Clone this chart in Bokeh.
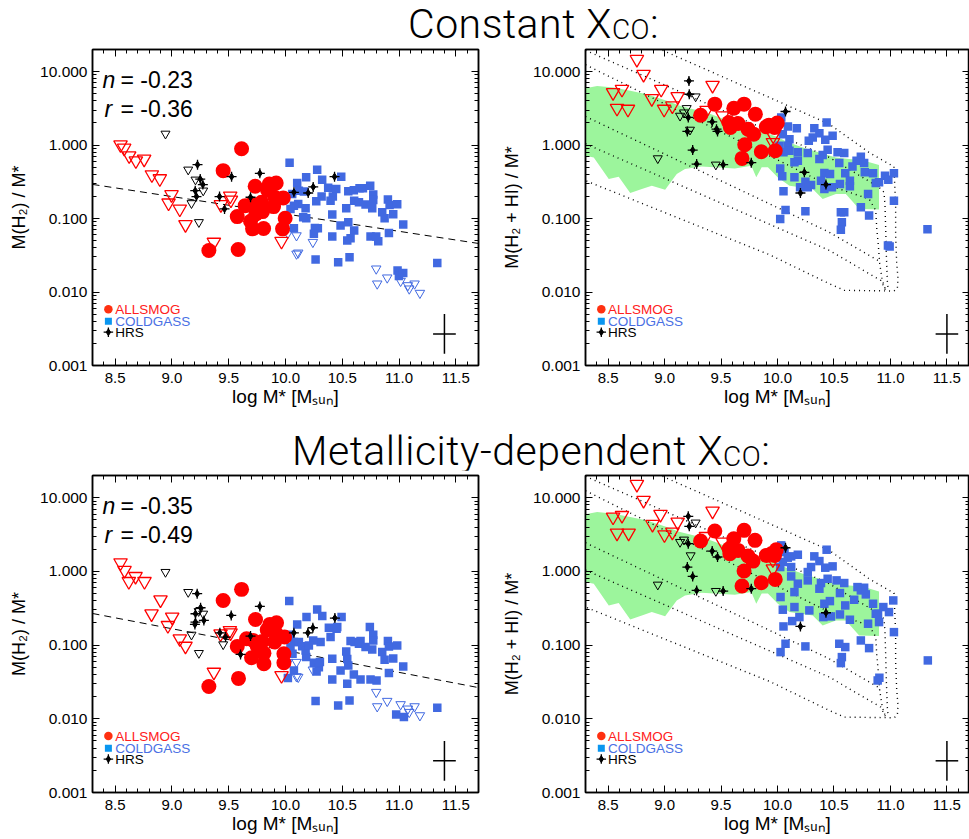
from bokeh.plotting import figure
from bokeh.models import (FixedTicker, LinearAxis, LogAxis, Div, Spacer,
                          Range1d, PrintfTickFormatter)
from bokeh.layouts import column, row
from bokeh.embed import file_html
from bokeh.resources import INLINE
from bokeh.core.properties import value

# ---------------------------------------------------------------- data
# all y values are log10 of the plotted ratio; x = log M* [Msun]

# ---- top-left: M(H2)/M*, constant XCO
TL_ALLSMOG_DET = [(9.613,-0.050),(9.451,-0.348),(9.733,-0.561),(9.857,-0.529),(9.918,-0.516),(9.842,-0.611),
                  (9.906,-0.710),(9.980,-0.719),(9.645,-0.824),(9.704,-0.801),(9.789,-0.778),(9.895,-0.837),
                  (9.575,-0.973),(9.739,-0.937),(9.798,-0.905),(9.692,-1.036),(9.997,-0.995),(9.710,-1.140),
                  (9.807,-1.136),(9.974,-1.140),(9.325,-1.434),(9.583,-1.421)]
TL_ALLSMOG_UL = [(8.547,0.005),(8.579,-0.041),(8.623,-0.145),(8.682,-0.213),(8.755,-0.190),(8.823,-0.403),
                 (8.893,-0.457),(8.996,-0.674),(8.970,-0.787),(9.069,-0.869),(9.119,-1.081),(9.369,-1.321),
                 (9.431,-0.810),(9.513,-0.692),(9.519,-0.747),(9.965,-1.308)]
TL_HRS_DET = [(9.225,-0.267),(9.249,-0.462),(9.272,-0.538),(9.205,-0.620),(9.216,-0.701),(9.419,-0.701),
              (9.463,-0.869),(9.525,-0.430),(9.692,-0.710),(9.774,-0.385),(10.074,-0.643),(10.200,-0.652),
              (10.244,-0.570),(10.432,-0.430)]
TL_HRS_UL = [(8.943,0.154),(9.143,-0.335),(9.207,-0.471),(9.275,-0.620),(9.172,-0.792),(9.237,-1.050)]
TL_COLDGASS_DET = [(10.036,-0.240),(10.279,-0.335),(10.323,-0.471),(10.182,-0.439),(10.103,-0.516),(10.118,-0.620),
                   (10.162,-0.633),(10.059,-0.665),(10.376,-0.579),(10.447,-0.597),(10.491,-0.430),(10.553,-0.629),
                   (10.602,-0.615),(10.652,-0.588),(10.682,-0.588),(10.746,-0.552),(10.773,-0.674),(10.773,-0.747),
                   (10.902,-0.742),(10.917,-0.814),(10.984,-0.805),(10.318,-0.701),(10.417,-0.701),(10.397,-0.756),
                   (10.271,-0.765),(10.177,-0.860),(10.112,-0.801),(10.074,-0.824),(10.044,-0.869),(10.412,-0.946),
                   (10.535,-0.860),(10.605,-0.756),(10.647,-0.778),(10.705,-0.810),(10.764,-0.860),(10.852,-0.914),
                   (10.873,-0.995),(10.949,-0.941),(10.183,-0.995),(10.156,-0.982),(10.259,-1.127),(10.285,-1.131),
                   (10.250,-1.208),(10.074,-1.131),(10.485,-1.095),(10.553,-1.050),(10.605,-1.163),(10.412,-1.244),
                   (10.573,-1.267),(10.544,-1.299),(10.749,-1.244),(10.799,-1.244),(10.817,-1.308),(10.911,-1.195),
                   (11.037,-1.081),(10.265,-1.557),(10.464,-1.593),(10.564,-1.525),(10.987,-1.706),(10.999,-1.783),
                   (11.037,-1.742),(11.337,-1.606)]
TL_COLDGASS_UL = [(10.021,-1.199),(10.097,-1.231),(10.241,-1.321),(10.097,-1.480),(10.112,-1.466),(10.799,-1.683),
                  (10.808,-1.887),(10.896,-1.805),(11.014,-1.851),(11.078,-1.910),(11.090,-1.955),(11.137,-1.887),
                  (11.184,-2.014)]
TL_FIT_X = [8.3, 11.7]
TL_FIT_LOGY = [-0.535, -1.339]
TL_N, TL_R = "-0.23", "-0.36"

# ---- bottom-left: M(H2)/M*, metallicity-dependent XCO
BL_ALLSMOG_DET = [(9.613,-0.244),(9.451,-0.394),(9.736,-0.652),(9.862,-0.719),(9.921,-0.697),(9.839,-0.792),
                  (9.915,-0.837),(9.992,-0.891),(9.657,-0.914),(9.716,-0.937),(9.795,-0.950),(9.904,-0.959),
                  (9.575,-1.018),(9.751,-1.014),(9.810,-1.109),(9.986,-1.118),(9.701,-1.172),(9.810,-1.253),
                  (9.986,-1.240),(9.325,-1.561),(9.586,-1.452)]
BL_ALLSMOG_UL = [(8.547,0.118),(8.582,0.014),(8.620,-0.136),(8.679,-0.068),(8.758,-0.136),(8.899,-0.385),
                 (8.820,-0.575),(9.002,-0.620),(8.964,-0.733),(9.069,-0.914),(9.119,-1.014),(9.369,-1.367),
                 (9.428,-0.846),(9.510,-0.801),(9.516,-0.833),(9.965,-1.412)]
BL_HRS_DET = [(9.222,-0.303),(9.207,-0.575),(9.252,-0.493),(9.281,-0.665),(9.207,-0.688),(9.202,-0.719),
              (9.422,-0.833),(9.472,-0.891),(9.522,-0.597),(9.604,-1.127),(9.692,-0.878),(9.774,-0.475),
              (10.074,-0.833),(10.197,-0.833),(10.241,-0.765),(10.435,-0.633)]
BL_HRS_UL = [(8.943,-0.009),(9.143,-0.281),(9.235,-0.540),(9.275,-0.575),(9.172,-0.860),(9.237,-1.109),(9.451,-0.991)]
BL_COLDGASS_DET = [(10.033,-0.403),(10.185,-0.620),(10.279,-0.516),(10.324,-0.606),(10.382,-0.765),(10.450,-0.778),
                   (10.494,-0.620),(10.103,-0.719),(10.044,-0.860),(10.074,-0.959),(10.118,-0.959),(10.044,-1.027),
                   (10.147,-1.014),(10.062,-1.118),(10.182,-1.163),(10.250,-1.240),(10.294,-1.299),(10.274,-1.357),
                   (10.412,-1.466),(10.464,-1.819),(10.564,-1.751),(10.265,-1.760),(10.021,-1.448),(10.074,-1.344),
                   (10.544,-1.190),(10.573,-0.946),(10.608,-0.959),(10.661,-0.946),(10.743,-0.756),(10.773,-0.860),
                   (10.773,-0.937),(10.902,-0.946),(10.911,-1.018),(10.984,-1.005),(10.647,-0.982),(10.705,-1.027),
                   (10.764,-1.059),(10.535,-1.086),(10.309,-0.959),(10.397,-0.891),(10.852,-1.095),(10.873,-1.199),
                   (10.949,-1.181),(11.037,-1.290),(10.911,-1.380),(10.661,-1.466),(10.749,-1.466),(10.802,-1.480),
                   (10.602,-1.398),(10.544,-1.525),(10.412,-1.186),(10.456,-0.756),(10.244,-0.937),(10.303,-1.231),
                   (10.975,-1.941),(11.043,-1.977),(11.337,-1.851),(10.485,-1.344),(10.553,-1.276),(10.177,-1.072),
                   (10.206,-1.005)]
BL_COLDGASS_UL = [(10.021,-1.231),(10.097,-1.231),(10.241,-1.335),(10.097,-1.425),(10.112,-1.434),(10.799,-1.638),
                  (10.808,-1.833),(10.896,-1.760),(11.014,-1.805),(11.078,-1.864),(11.090,-1.910),(11.137,-1.833),
                  (11.184,-1.955)]
BL_FIT_X = [8.3, 11.7]
BL_FIT_LOGY = [-0.571, -1.577]
BL_N, BL_R = "-0.35", "-0.49"

# ---- top-right: M(H2+HI)/M*, constant XCO
TR_ALLSMOG_DET = [(9.319,0.407),(9.445,0.557),(9.613,0.502),(9.704,0.557),(9.804,0.421),(9.569,0.308),
                  (9.651,0.294),(9.583,0.240),(9.739,0.217),(9.789,0.149),(9.901,0.249),(9.924,0.271),
                  (9.998,0.299),(9.974,0.240),(9.710,0.005),(9.857,-0.090),(9.980,-0.077),(9.686,-0.181)]
TR_ALLSMOG_UL = [(8.755,1.167),(8.814,0.964),(8.544,0.715),(8.623,0.760),(8.579,0.502),(8.676,0.489),
                 (8.887,0.633),(8.970,0.760),(8.996,0.489),(9.069,0.534),(9.116,0.661),(9.425,0.814),
                 (9.372,0.475),(9.513,0.398),(9.962,0.127),(9.959,0.036)]
TR_HRS_DET = [(9.216,0.873),(9.219,0.692),(9.210,0.376),(9.202,0.186),(9.249,-0.068),(9.284,-0.258),
              (9.422,0.317),(9.460,0.217),(9.469,0.186),(9.519,-0.267),(9.768,-0.240),(10.071,0.457),
              (10.238,-0.371),(10.429,-0.538),(10.203,-0.652)]
TR_HRS_UL = [(9.275,0.661),(9.196,0.502),(9.172,0.443),(9.137,0.398),(9.225,0.208),(8.940,-0.181),(9.454,-0.267)]
TR_COLDGASS_DET = [(10.033,0.375),(10.092,0.253),(10.171,0.230),(10.326,0.230),(10.371,0.162),(10.312,0.104),
                   (10.277,0.058),(10.435,0.307),(10.488,0.126),(10.423,0.072),(10.047,0.149),(10.106,0.081),
                   (10.018,-0.010),(10.092,-0.010),(10.106,-0.077),(10.053,-0.099),(10.180,-0.099),(10.268,-0.108),
                   (10.400,-0.136),(10.444,-0.064),(10.532,-0.099),(10.591,-0.108),(10.371,-0.190),(10.180,-0.213),
                   (10.150,-0.235),(10.547,-0.244),(10.738,-0.159),(10.700,-0.213),(10.767,-0.244),(10.664,-0.290),
                   (10.024,-0.317),(10.042,-0.425),(10.150,-0.439),(10.415,-0.380),(10.465,-0.394),(10.600,-0.385),
                   (10.773,-0.371),(10.846,-0.385),(10.952,-0.416),(10.981,-0.471),(11.031,-0.385),(10.899,-0.507),
                   (10.870,-0.516),(10.247,-0.498),(10.297,-0.543),(10.268,-0.575),(10.200,-0.575),(10.385,-0.485),
                   (10.415,-0.598),(10.482,-0.575),(10.553,-0.530),(10.641,-0.485),(10.641,-0.561),(10.802,-0.665),
                   (10.053,-0.629),(11.031,-0.756),(10.738,-0.846),(10.071,-0.882),(10.247,-0.901),(10.561,-0.914),
                   (10.591,-0.914),(10.024,-1.005),(10.570,-1.050),(10.561,-1.154),(10.811,-0.959),(10.993,-1.380),
                   (10.978,-1.367),(11.328,-1.145)]

# ---- bottom-right: M(H2+HI)/M*, metallicity-dependent XCO
BR_ALLSMOG_DET = [(9.319,0.412),(9.445,0.548),(9.613,0.443),(9.704,0.557),(9.801,0.421),(9.572,0.308),
                  (9.651,0.285),(9.578,0.240),(9.739,0.208),(9.783,0.140),(9.901,0.217),(9.945,0.240),
                  (9.989,0.294),(9.974,0.217),(9.704,0.005),(9.857,-0.154),(9.980,-0.109),(9.686,-0.199)]
BR_ALLSMOG_UL = [(8.755,1.181),(8.814,0.964),(8.544,0.738),(8.623,0.760),(8.579,0.520),(8.682,0.520),
                 (8.893,0.638),(8.964,0.774),(8.999,0.498),(9.069,0.534),(9.116,0.670),(9.425,0.819),
                 (9.366,0.475),(9.513,0.398),(9.959,0.158),(9.959,0.036)]
BR_HRS_DET = [(9.210,0.747),(9.219,0.611),(9.210,0.376),(9.202,0.059),(9.249,-0.068),(9.284,-0.258),
              (9.422,0.276),(9.469,0.195),(9.519,-0.267),(9.768,-0.235),(10.071,0.321),(10.429,-0.561),
              (10.203,-0.747)]
BR_HRS_UL = [(9.275,0.661),(9.172,0.430),(9.137,0.398),(9.231,0.217),(8.940,-0.181),(9.454,-0.267)]
BR_COLDGASS_DET = [(10.033,0.353),(10.062,0.262),(10.121,0.204),(10.180,0.226),(10.091,0.186),(10.047,0.127),
                   (10.024,0.059),(10.121,0.059),(10.121,-0.068),(10.326,0.204),(10.371,0.140),(10.435,0.294),
                   (10.488,0.068),(10.423,0.050),(10.297,0.059),(10.268,-0.009),(10.444,-0.100),(10.385,-0.158),
                   (10.371,-0.235),(10.523,-0.122),(10.591,-0.158),(10.268,-0.122),(10.180,-0.167),(10.150,-0.281),
                   (10.553,-0.294),(10.679,-0.385),(10.738,-0.258),(10.782,-0.312),(10.767,-0.222),(10.708,-0.213),
                   (10.846,-0.439),(10.870,-0.575),(10.937,-0.484),(10.987,-0.552),(11.025,-0.394),(10.899,-0.688),
                   (10.802,-0.710),(10.738,-0.937),(10.811,-1.041),(11.031,-0.824),(10.641,-0.656),(10.600,-0.462),
                   (10.553,-0.584),(10.464,-0.403),(10.415,-0.439),(10.406,-0.620),(10.473,-0.611),(10.282,-0.529),
                   (10.194,-0.620),(10.150,-0.484),(10.130,-0.674),(10.047,-0.520),(10.027,-0.348),(10.053,-0.747),
                   (10.071,-0.982),(10.027,-1.095),(10.247,-1.018),(10.547,-0.982),(10.600,-1.027),(10.570,-1.163),
                   (10.561,-1.244),(10.902,-1.443),(10.887,-1.480),(11.331,-1.208),(10.890,-0.575)]

# ---- right panels: shaded distribution and dotted model tracks (x, log y)
GREEN_UPPER = [(8.300,0.775),(8.403,0.805),(8.550,0.783),(8.696,0.738),(8.843,0.692),(9.020,0.602),
               (9.137,0.534),(9.254,0.489),(9.372,0.443),(9.489,0.376),(9.607,0.308),(9.724,0.262),
               (9.871,0.180),(10.000,0.110),(10.077,0.050),(10.224,-0.032),(10.370,-0.100),(10.517,-0.168),
               (10.635,-0.190),(10.752,-0.205),(10.899,-0.272)]
GREEN_LOWER = [(10.899,-0.878),(10.723,-0.869),(10.605,-0.666),(10.517,-0.666),(10.400,-0.733),(10.312,-0.598),
               (10.106,-0.552),(10.003,-0.440),(9.915,-0.300),(9.860,-0.300),(9.812,-0.439),(9.768,-0.281),
               (9.622,-0.317),(9.328,-0.290),(9.181,-0.326),(9.108,-0.394),(9.005,-0.607),(8.887,-0.552),
               (8.799,-0.598),(8.696,-0.652),(8.594,-0.430),(8.506,-0.462),(8.373,-0.168),(8.300,-0.145)]
TRACK_1 = [(8.820,1.400),(8.996,1.281),(9.930,0.647),(10.459,0.285),(10.811,-0.100),(11.031,-0.294),
           (11.046,-0.824),(11.046,-1.231),(11.055,-1.593),(11.067,-1.819),(11.061,-1.955),(11.031,-1.986),
           (10.591,-1.977),(10.459,-1.887),(9.930,-1.493),(8.300,-0.484)]
TRACK_2 = [(8.300,1.290),(10.459,-0.167),(10.899,-0.575),(10.943,-0.643),(10.952,-0.824),(10.958,-1.140),
           (10.964,-1.502),(10.973,-1.864),(10.981,-1.977)]
TRACK_3 = [(8.300,1.094),(10.459,-0.552),(10.811,-0.733),(10.870,-0.891),(10.879,-1.140),(10.893,-1.367),
           (10.905,-1.615),(10.928,-1.842),(10.958,-1.977)]
TRACK_4 = [(8.300,0.389),(10.459,-1.186),(10.899,-1.579),(10.905,-1.615)]
TRACK_5 = [(8.300,0.018),(10.459,-1.434),(10.914,-1.842),(10.958,-1.977)]

# ---- typical error bar (x centre, log y centre, half widths)
ERR_X_LEFT, ERR_X_RIGHT = 11.4, 11.5
ERR_LOGY = -2.57
ERR_DX, ERR_DLOGY = 0.10, 0.27

# ---- legend
LEGEND_NAMES = ["ALLSMOG", "COLDGASS", "HRS"]
LEGEND_LOGY = [-2.235, -2.398, -2.547]

X_MAJOR = [8.5, 9.0, 9.5, 10.0, 10.5, 11.0, 11.5]
Y_MAJOR = [0.001, 0.01, 0.1, 1.0, 10.0]

# ---------------------------------------------------------------- style
FONT = "Liberation Sans"
RED = "#ff0000"
BLUE = "#4169e1"
GREEN = "#9cf59c"
X_MINOR = [round(8.3 + 0.1 * i, 1) for i in range(35)]
Y_MINOR = [k * 10.0 ** e for e in range(-3, 2) for k in range(2, 10)]


def xy(pairs):
    return [p[0] for p in pairs], [10 ** p[1] for p in pairs]


def tick_style(ax):
    ax.major_tick_in = 7
    ax.major_tick_out = 0
    ax.minor_tick_in = 4
    ax.minor_tick_out = 0
    ax.major_tick_line_color = "black"
    ax.minor_tick_line_color = "black"
    ax.major_tick_line_width = 1
    ax.minor_tick_line_width = 1
    ax.axis_line_color = "black"
    ax.axis_line_width = 1.5


def hidden_labels(ax):
    ax.major_label_text_font_size = "1px"
    ax.major_label_text_color = None
    ax.major_label_standoff = 0


def make_panel(width, height, b_left, b_right, b_top, b_bottom, ylabel):
    p = figure(width=width, height=height, x_range=Range1d(8.3, 11.7), y_range=Range1d(0.001, 20),
               y_axis_type="log", output_backend="svg", toolbar_location=None,
               min_border_left=b_left, min_border_right=b_right,
               min_border_top=b_top, min_border_bottom=b_bottom)
    p.xgrid.visible = False
    p.ygrid.visible = False
    p.outline_line_color = "black"
    p.outline_line_width = 1.5
    p.background_fill_color = "white"
    p.border_fill_color = "white"
    xt = FixedTicker(ticks=X_MAJOR, minor_ticks=X_MINOR)
    yt = FixedTicker(ticks=Y_MAJOR, minor_ticks=Y_MINOR)

    xa = p.xaxis[0]
    xa.ticker = xt
    xa.formatter = PrintfTickFormatter(format="%.1f")
    tick_style(xa)
    xa.major_label_text_font = FONT
    xa.major_label_text_font_size = "15px"
    xa.major_label_text_color = "black"
    xa.major_label_standoff = 7
    xa.axis_label = "log M* [Mₛᵤₙ]"
    xa.axis_label_text_font = FONT
    xa.axis_label_text_font_size = "19px"
    xa.axis_label_text_font_style = "normal"
    xa.axis_label_text_color = "black"
    xa.axis_label_standoff = 0

    ya = p.yaxis[0]
    ya.ticker = yt
    ya.formatter = PrintfTickFormatter(format="%.3f")
    tick_style(ya)
    ya.major_label_text_font = FONT
    ya.major_label_text_font_size = "15.5px"
    ya.major_label_text_color = "black"
    ya.major_label_standoff = 5
    ya.axis_label = ylabel
    ya.axis_label_text_font = FONT
    ya.axis_label_text_font_size = "18px"
    ya.axis_label_text_font_style = "normal"
    ya.axis_label_text_color = "black"
    ya.axis_label_standoff = 8

    top = LinearAxis(ticker=xt)
    tick_style(top)
    hidden_labels(top)
    p.add_layout(top, "above")
    right = LogAxis(ticker=yt)
    tick_style(right)
    hidden_labels(right)
    p.add_layout(right, "right")
    return p


def draw_star(p, xs, ys, size=10):
    p.scatter(xs, ys, marker="cross", size=size, line_color="black", line_width=1.3)
    p.scatter(xs, ys, marker="diamond", size=size * 0.7, fill_color="black", line_color="black")


def draw_points(p, als_det, als_ul, cg_det, cg_ul, hrs_det, hrs_ul):
    x, y = xy(cg_det)
    p.scatter(x, y, marker="square", size=8.5, fill_color=BLUE, line_color=None)
    if cg_ul:
        x, y = xy(cg_ul)
        p.scatter(x, y, marker="inverted_triangle", size=9.5, fill_color=None, line_color=BLUE, line_width=1)
    x, y = xy(als_det)
    p.scatter(x, y, marker="circle", size=15, fill_color=RED, line_color=None)
    x, y = xy(als_ul)
    p.scatter(x, y, marker="inverted_triangle", size=13.5, fill_color=None, line_color=RED, line_width=1.3)
    x, y = xy(hrs_ul)
    p.scatter(x, y, marker="inverted_triangle", size=9, fill_color=None, line_color="black", line_width=1)
    x, y = xy(hrs_det)
    draw_star(p, x, y, size=10)


def draw_legend(p):
    mx, tx = 8.44, 8.50
    ys = [10 ** v for v in LEGEND_LOGY]
    p.scatter([mx], [ys[0]], marker="circle", size=8.5, fill_color="#ff3010", line_color=None)
    p.scatter([mx], [ys[1]], marker="square", size=7, fill_color="#0a96f0", line_color=None)
    draw_star(p, [mx], [ys[2]], size=9.5)
    p.text(x=[tx] * 3, y=ys, text=LEGEND_NAMES, text_color=["#ff2020", "#4a70e4", "black"],
           text_font=value(FONT), text_font_size="13.5px", text_baseline="middle", text_align="left")


def draw_error(p, xc):
    yc = 10 ** ERR_LOGY
    p.segment(x0=[xc - ERR_DX], y0=[yc], x1=[xc + ERR_DX], y1=[yc], line_color="black", line_width=1.5)
    p.segment(x0=[xc], y0=[10 ** (ERR_LOGY - ERR_DLOGY)], x1=[xc], y1=[10 ** (ERR_LOGY + ERR_DLOGY)],
              line_color="black", line_width=1.5)


def draw_fit(p, fx, flogy, n_txt, r_txt):
    p.line(fx, [10 ** v for v in flogy], line_color="black", line_width=1, line_dash="7 5")
    sx = [8.388, 8.406]
    sy = [10 ** 0.882, 10 ** 0.488]
    p.text(x=sx, y=sy, text=["n", "r"], text_font=value(FONT), text_font_style="italic",
           text_font_size="23px", text_color="black", text_baseline="alphabetic", text_align="left")
    p.text(x=sx, y=sy, text=["= " + n_txt, "= " + r_txt], x_offset=[18, 16], text_font=value(FONT),
           text_font_size="23px", text_color="black", text_baseline="alphabetic", text_align="left")


def draw_model(p):
    xs = [q[0] for q in GREEN_UPPER] + [q[0] for q in GREEN_LOWER]
    ys = [10 ** q[1] for q in GREEN_UPPER] + [10 ** q[1] for q in GREEN_LOWER]
    p.patch(xs, ys, fill_color=GREEN, line_color=None)
    for tr in (TRACK_1, TRACK_2, TRACK_3, TRACK_4, TRACK_5):
        x, y = xy(tr)
        p.line(x, y, line_color="black", line_width=1.4, line_dash="1 4")


YL_LEFT = "M(H₂) / M*"
YL_RIGHT = "M(H₂ + HI) / M*"

tl = make_panel(480, 385, 92, 2, 8, 60, YL_LEFT)
draw_fit(tl, TL_FIT_X, TL_FIT_LOGY, TL_N, TL_R)
draw_points(tl, TL_ALLSMOG_DET, TL_ALLSMOG_UL, TL_COLDGASS_DET, TL_COLDGASS_UL, TL_HRS_DET, TL_HRS_UL)
draw_legend(tl)
draw_error(tl, ERR_X_LEFT)

tr = make_panel(489, 385, 105, 0, 9, 60, YL_RIGHT)
draw_model(tr)
draw_points(tr, TR_ALLSMOG_DET, TR_ALLSMOG_UL, TR_COLDGASS_DET, [], TR_HRS_DET, TR_HRS_UL)
draw_legend(tr)
draw_error(tr, ERR_X_RIGHT)

bl = make_panel(480, 369, 92, 2, 5, 47, YL_LEFT)
draw_fit(bl, BL_FIT_X, BL_FIT_LOGY, BL_N, BL_R)
draw_points(bl, BL_ALLSMOG_DET, BL_ALLSMOG_UL, BL_COLDGASS_DET, BL_COLDGASS_UL, BL_HRS_DET, BL_HRS_UL)
draw_legend(bl)
draw_error(bl, ERR_X_LEFT)

br = make_panel(489, 369, 105, 0, 5, 47, YL_RIGHT)
draw_model(br)
draw_points(br, BR_ALLSMOG_DET, BR_ALLSMOG_UL, BR_COLDGASS_DET, [], BR_HRS_DET, BR_HRS_UL)
draw_legend(br)
draw_error(br, ERR_X_RIGHT)

TITLE_STYLE = ("font-family:Roboto,'Liberation Sans',sans-serif;font-weight:300;font-size:41px;"
               "line-height:48px;letter-spacing:0.5px;white-space:nowrap;color:#000;")
SUB = '<span style="font-size:28px;position:relative;top:1px">CO</span>'
title1 = Div(text='<div style="%spadding-top:0px">Constant X%s:</div>' % (TITLE_STYLE, SUB),
             width=561, height=40, margin=0)
title2 = Div(text='<div style="%spadding-top:2px">Metallicity-dependent X%s:</div>' % (TITLE_STYLE, SUB),
             width=677, height=45, margin=0)

layout = column(
    row(Spacer(width=408, height=40, margin=0), title1),
    row(tl, tr),
    row(Spacer(width=292, height=45, margin=0), title2),
    row(bl, br),
)

open("out.html", "w").write(file_html(layout, INLINE))
